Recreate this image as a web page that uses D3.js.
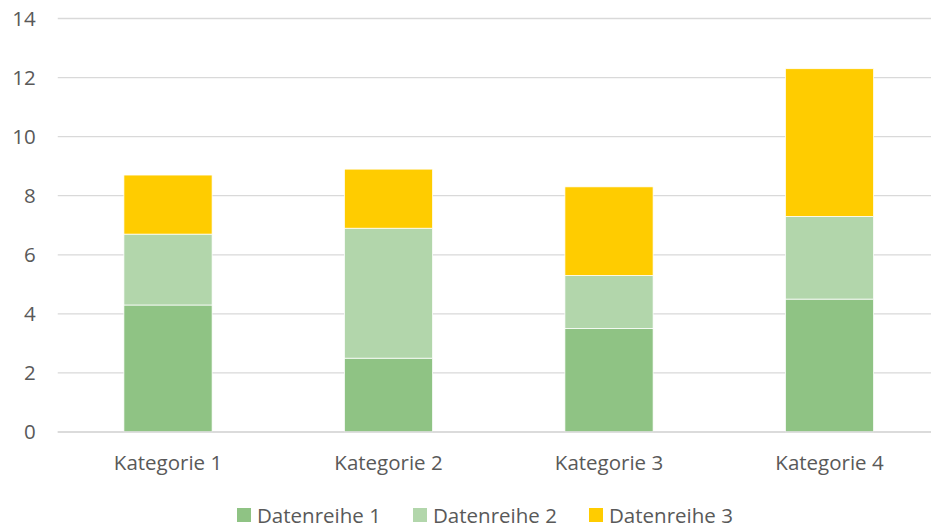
<!DOCTYPE html>
<html>
<head>
<meta charset="utf-8">
<script src="https://cdn.jsdelivr.net/npm/d3@7"></script>
<style>
  body { margin: 0; background: #fff; }
  svg { display: block; font-family: "Open Sans", "Liberation Sans", sans-serif; }
</style>
</head>
<body>
<div class="chart"></div>
<script>
const categories = ['Kategorie 1', 'Kategorie 2', 'Kategorie 3', 'Kategorie 4'];
const seriesNames = ['Datenreihe 1', 'Datenreihe 2', 'Datenreihe 3'];
const reihe1 = [4.3, 2.5, 3.5, 4.5];
const reihe2 = [2.4, 4.4, 1.8, 2.8];
const reihe3 = [2, 2, 3, 5];
const yTicks = [0, 2, 4, 6, 8, 10, 12, 14];
const colors = ['#8fc384', '#b2d6ab', '#ffcc00'];

const W = 931, H = 532;
const margin = {top: 18.5, left: 57.75};
const plotW = 882, plotH = 413.5;
const fontSize = 20.5;

const rows = categories.map((c, i) => ({
  cat: c, [seriesNames[0]]: reihe1[i], [seriesNames[1]]: reihe2[i], [seriesNames[2]]: reihe3[i]
}));
const stacked = d3.stack().keys(seriesNames)(rows);

const svg = d3.select('.chart').append('svg')
    .attr('width', W)
    .attr('height', H);

const g = svg.append('g')
    .attr('transform', `translate(${margin.left},${margin.top})`);

const x = d3.scaleBand()
    .domain(categories)
    .range([0, plotW])
    .paddingInner(0.6)
    .paddingOuter(0.3);

const y = d3.scaleLinear()
    .domain([0, 14])
    .range([plotH, 0]);

// gridlines
g.append('g')
  .selectAll('line')
  .data(yTicks)
  .join('line')
    .attr('x1', 0)
    .attr('x2', plotW)
    .attr('y1', d => y(d))
    .attr('y2', d => y(d))
    .attr('stroke', '#d9d9d9')
    .attr('stroke-width', 1.3);

// y labels
g.append('g')
  .selectAll('text')
  .data(yTicks)
  .join('text')
    .attr('x', -22)
    .attr('y', d => y(d))
    .attr('dy', '0.36em')
    .attr('text-anchor', 'end')
    .attr('fill', '#595959')
    .attr('font-size', fontSize)
    .text(d => d);

// bars
g.append('g')
  .selectAll('g')
  .data(stacked)
  .join('g')
    .attr('fill', (d, i) => colors[i])
  .selectAll('rect')
  .data(d => d)
  .join('rect')
    .attr('x', d => x(d.data.cat))
    .attr('width', x.bandwidth())
    .attr('y', d => y(d[1]))
    .attr('height', d => y(d[0]) - y(d[1]))
    .attr('stroke', '#fff')
    .attr('stroke-width', 0.75);

// axis line on top
g.append('line')
    .attr('x1', 0).attr('x2', plotW)
    .attr('y1', y(0)).attr('y2', y(0))
    .attr('stroke', '#d9d9d9')
    .attr('stroke-width', 1.3);

// category labels
g.append('g')
  .selectAll('text')
  .data(categories)
  .join('text')
    .attr('x', d => x(d) + x.bandwidth() / 2)
    .attr('y', plotH + 38)
    .attr('text-anchor', 'middle')
    .attr('fill', '#595959')
    .attr('font-size', fontSize)
    .text(d => d);

// legend
const legendX = [237, 413, 589];
const legend = svg.append('g')
  .selectAll('g')
  .data(seriesNames)
  .join('g')
    .attr('transform', (d, i) => `translate(${legendX[i]},508)`);
legend.append('rect')
    .attr('width', 14)
    .attr('height', 14)
    .attr('fill', (d, i) => colors[i]);
legend.append('text')
    .attr('x', 20)
    .attr('y', 15)
    .attr('fill', '#595959')
    .attr('font-size', fontSize)
    .text(d => d);
</script>
</body>
</html>
